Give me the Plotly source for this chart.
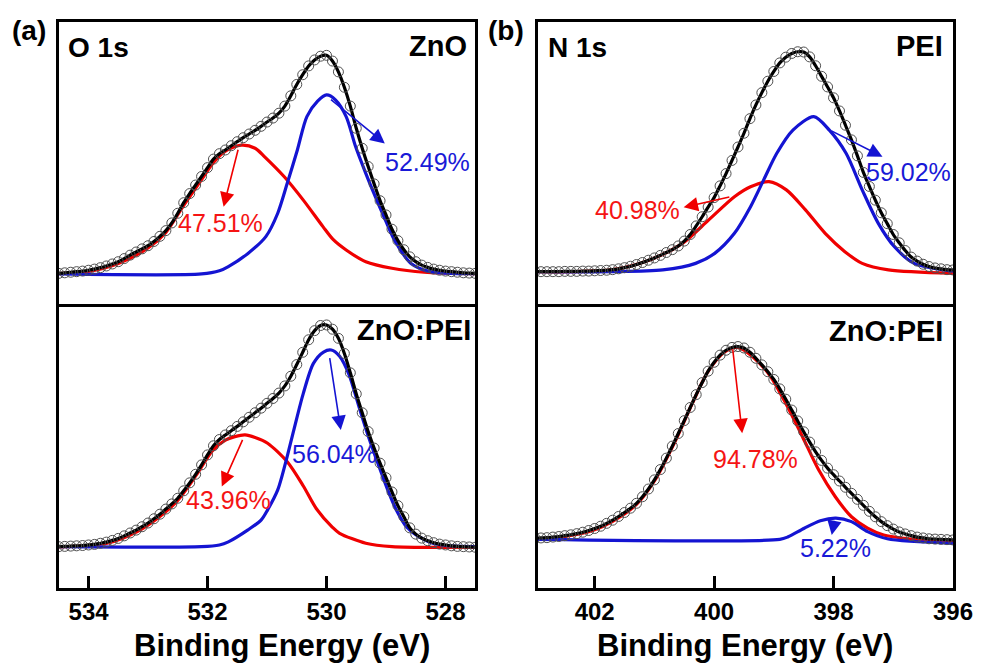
import plotly.graph_objects as go

# ---------------- data ----------------
STEP = 0.1
O1S_START = 534.5
N1S_START = 403.0

# O 1s, ZnO : measured intensity (also the envelope fit), 534.5 -> 527.5 eV
o1s_zno_data = [
    11.1, 11.3, 11.5, 11.7, 11.9, 12.2, 12.6, 13.1, 13.7, 14.4,
    15.2, 16.3, 17.5, 18.6, 19.7, 20.8, 22.3, 24.1, 26.1, 28.8,
    32.2, 35.9, 39.1, 42.1, 45.1, 48.2, 51.2, 53.1, 54.4, 55.9,
    57.3, 58.7, 60.0, 61.3, 62.7, 64.2, 65.6, 67.3, 69.8, 73.4,
    77.4, 80.8, 83.9, 86.0, 87.3, 87.6, 85.6, 81.8, 76.4, 69.8,
    62.0, 55.0, 48.6, 42.5, 36.6, 31.6, 26.6, 22.6, 19.4, 16.9,
    15.2, 14.0, 13.2, 12.6, 12.2, 11.9, 11.7, 11.5, 11.3, 11.2,
    11.1]
o1s_zno_red_e = [534.5, 534.0, 533.5, 533.0, 532.7, 532.4, 532.1, 531.9, 531.7, 531.43,
                 531.2, 531.04, 530.71, 530.39, 530.06, 529.89, 529.67, 529.34, 528.9, 528.36, 527.5]
o1s_zno_red_v = [11.0, 11.8, 14.6, 20.0, 25.5, 35.0, 44.0, 50.0, 54.0, 56.1,
                 55.0, 52.0, 45.0, 36.8, 27.5, 23.0, 19.3, 15.2, 12.9, 11.5, 11.0]
o1s_zno_blue_e = [534.5, 532.1, 531.8, 531.65, 531.32, 531.02, 530.82, 530.66, 530.49, 530.33,
                  530.15, 530.0, 529.85, 529.67, 529.51, 529.34, 529.18, 529.01, 528.85, 528.58,
                  528.25, 527.5]
o1s_zno_blue_v = [10.9, 10.9, 12.0, 13.5, 18.1, 24.0, 32.2, 42.7, 54.4, 66.1,
                  71.5, 73.7, 72.0, 66.1, 55.5, 46.2, 38.0, 29.8, 22.5, 14.6,
                  11.7, 11.0]

# O 1s, ZnO:PEI
o1s_zp_data = [
    15.2, 15.3, 15.4, 15.5, 15.6, 15.8, 16.0, 16.4, 16.8, 17.4,
    18.1, 19.0, 20.0, 21.0, 22.2, 23.5, 25.0, 26.6, 28.4, 30.2,
    32.2, 34.8, 37.6, 40.6, 43.9, 47.4, 50.6, 52.8, 54.4, 55.9,
    57.4, 59.0, 60.6, 62.2, 63.8, 65.5, 67.2, 69.1, 71.6, 75.0,
    79.1, 83.4, 87.8, 91.0, 92.8, 93.0, 91.5, 88.3, 83.0, 76.2,
    68.8, 62.2, 55.6, 49.8, 44.5, 39.4, 34.4, 29.6, 25.7, 21.8,
    19.6, 18.2, 17.3, 16.6, 16.1, 15.8, 15.5, 15.3, 15.2, 15.1,
    15.0]
o1s_zp_red_e = [534.5, 533.67, 533.18, 532.85, 532.52, 532.19, 531.92, 531.7, 531.54, 531.37,
                531.2, 530.99, 530.66, 530.39, 530.17, 529.9, 529.78, 529.34, 528.9, 527.5]
o1s_zp_red_v = [15.1, 16.5, 20.5, 25.0, 31.0, 40.3, 48.8, 52.6, 53.8, 54.4,
                53.5, 51.5, 45.0, 36.5, 28.5, 22.0, 19.9, 16.4, 15.2, 15.0]
o1s_zp_blue_e = [534.5, 532.1, 531.8, 531.65, 531.32, 531.1, 530.99, 530.82, 530.69, 530.55,
                 530.39, 530.22, 530.05, 529.92, 529.78, 529.62, 529.45, 529.29, 529.12, 528.96,
                 528.82, 528.65, 528.47, 528.2, 528.0, 527.5]
o1s_zp_blue_v = [15.2, 15.2, 15.8, 16.9, 21.1, 24.5, 28.1, 35.1, 44.5, 56.1,
                 69.0, 79.5, 83.5, 84.2, 82.0, 75.5, 64.0, 53.5, 43.5, 34.5,
                 27.8, 22.0, 19.0, 16.3, 15.6, 15.2]

# N 1s, PEI : 403.0 -> 396.0 eV
n1s_pei_data = [
    12.0, 12.0, 12.0, 12.0, 12.0, 12.1, 12.1, 12.1, 12.2, 12.2,
    12.3, 12.4, 12.5, 12.7, 13.0, 13.4, 13.9, 14.5, 15.2, 16.0,
    16.8, 17.7, 18.7, 19.7, 21.0, 22.7, 25.0, 28.0, 31.2, 34.6,
    37.9, 42.0, 46.3, 50.9, 55.6, 60.4, 65.5, 70.3, 74.6, 78.6,
    82.0, 85.0, 87.0, 88.3, 88.9, 88.8, 87.1, 84.0, 80.3, 76.6,
    72.8, 68.2, 63.2, 58.1, 52.5, 46.7, 41.8, 37.0, 32.6, 28.8,
    25.0, 22.1, 19.4, 17.1, 15.7, 14.6, 13.8, 13.3, 13.0, 12.7,
    12.6]
n1s_pei_red_e = [403.0, 401.73, 401.08, 400.53, 400.09, 399.66, 399.39, 399.08, 398.79, 398.47,
                 398.14, 397.81, 397.52, 397.08, 396.0]
n1s_pei_red_v = [12.0, 12.6, 16.1, 21.9, 30.1, 38.2, 41.7, 43.5, 40.6, 33.6,
                 25.4, 19.0, 14.9, 12.6, 11.4]
n1s_pei_blue_e = [403.0, 401.73, 400.86, 400.31, 399.99, 399.66, 399.39, 399.17, 398.95, 398.68,
                  398.33, 398.07, 397.79, 397.52, 397.25, 396.98, 396.65, 396.0]
n1s_pei_blue_v = [12.0, 12.0, 12.6, 14.9, 18.4, 25.4, 34.7, 44.1, 53.4, 61.5,
                  66.2, 61.5, 53.4, 40.6, 28.9, 20.7, 14.9, 12.2]

# N 1s, ZnO:PEI
n1s_zp_data = [
    18.8, 18.9, 19.0, 19.2, 19.4, 19.7, 20.0, 20.4, 20.9, 21.5,
    22.2, 23.0, 24.0, 25.1, 26.4, 27.8, 29.3, 31.0, 33.3, 36.0,
    39.2, 42.8, 46.8, 51.0, 55.4, 59.9, 64.5, 69.0, 73.2, 77.2,
    80.3, 82.8, 84.5, 85.5, 85.8, 85.3, 83.8, 81.7, 79.4, 77.0,
    74.3, 71.0, 67.4, 63.6, 59.8, 56.0, 52.4, 49.0, 46.0, 43.3,
    41.0, 38.8, 36.6, 34.5, 32.4, 30.3, 28.2, 26.3, 24.6, 23.2,
    22.0, 21.0, 20.3, 19.7, 19.2, 18.9, 18.6, 18.5, 18.4, 18.3,
    18.2]
n1s_zp_red_e = [403.0, 402.5, 402.0, 401.7, 401.3, 401.0, 400.65, 400.37, 400.1, 399.83,
                399.61, 399.34, 399.06, 398.79, 398.52, 398.25, 397.97, 397.7, 397.43, 397.16,
                396.83, 396.0]
n1s_zp_red_v = [18.4, 19.4, 21.8, 24.7, 30.6, 38.8, 52.8, 65.7, 77.1, 83.8,
                85.5, 82.0, 75.5, 65.5, 54.3, 42.7, 33.3, 26.3, 22.3, 19.9,
                18.8, 17.6]
n1s_zp_blue_e = [403.0, 398.9, 398.76, 398.49, 398.22, 397.96, 397.7, 397.43, 397.1, 396.0]
n1s_zp_blue_v = [18.4, 18.4, 19.3, 22.3, 24.9, 25.8, 24.6, 21.1, 18.6, 17.0]

# tick labels
o1s_ticks = [534, 532, 530, 528]
n1s_ticks = [402, 400, 398, 396]

# percentage labels: (text, x, y, arrow tail x, tail y, head x, head y)
o1s_zno_pct = [("47.51%", 531.78, 28.8, 531.48, 55.0, 531.73, 34.5, "red"),
               ("52.49%", 528.30, 50.2, 529.95, 72.5, 529.02, 56.7, "blue")]
o1s_zp_pct = [("43.96%", 531.64, 31.6, 531.40, 53.2, 531.76, 36.3, "red"),
              ("56.04%", 529.86, 47.7, 529.95, 81.9, 529.76, 56.1, "blue")]
n1s_pei_pct = [("40.98%", 401.28, 33.6, 399.72, 38.2, 400.51, 34.5, "red"),
               ("59.02%", 396.75, 46.9, 398.06, 61.5, 397.18, 52.2, "blue")]
n1s_zp_pct = [("94.78%", 399.30, 46.5, 399.69, 85.2, 399.53, 55.5, "red"),
              ("5.22%", 397.96, 15.4, 397.98, 25.4, 398.03, 19.9, "blue")]

# ---------------- styling ----------------
FONT = "Liberation Sans, Arial, sans-serif"
RED = "rgb(240,0,0)"
BLUE = "rgb(20,20,210)"
TXT_RED = "rgb(245,20,20)"
TXT_BLUE = "rgb(25,25,215)"
LW = 3.2


def grid(start, n):
    return [round(start - STEP * i, 2) for i in range(n)]


fig = go.Figure()

panels = [
    ("x", "y", O1S_START, o1s_zno_data, o1s_zno_red_e, o1s_zno_red_v, o1s_zno_blue_e, o1s_zno_blue_v, o1s_zno_pct),
    ("x2", "y2", O1S_START, o1s_zp_data, o1s_zp_red_e, o1s_zp_red_v, o1s_zp_blue_e, o1s_zp_blue_v, o1s_zp_pct),
    ("x3", "y3", N1S_START, n1s_pei_data, n1s_pei_red_e, n1s_pei_red_v, n1s_pei_blue_e, n1s_pei_blue_v, n1s_pei_pct),
    ("x4", "y4", N1S_START, n1s_zp_data, n1s_zp_red_e, n1s_zp_red_v, n1s_zp_blue_e, n1s_zp_blue_v, n1s_zp_pct),
]

annotations = []
for xa, ya, start, data, re_, rv, be, bv, pct in panels:
    e = grid(start, len(data))
    fig.add_trace(go.Scatter(x=re_, y=rv, mode="lines", xaxis=xa, yaxis=ya,
                             line=dict(color=RED, width=LW, shape="spline", smoothing=0.8),
                             showlegend=False, hoverinfo="skip"))
    fig.add_trace(go.Scatter(x=be, y=bv, mode="lines", xaxis=xa, yaxis=ya,
                             line=dict(color=BLUE, width=LW, shape="spline", smoothing=0.8),
                             showlegend=False, hoverinfo="skip"))
    fig.add_trace(go.Scatter(x=e, y=data, mode="lines", xaxis=xa, yaxis=ya,
                             line=dict(color="black", width=LW, shape="spline", smoothing=0.8),
                             showlegend=False, hoverinfo="skip"))
    fig.add_trace(go.Scatter(x=e, y=data, mode="markers", xaxis=xa, yaxis=ya,
                             marker=dict(symbol="circle-open", size=10, color="rgb(80,80,80)",
                                         line=dict(width=1, color="rgb(80,80,80)")),
                             showlegend=False, hoverinfo="skip"))
    for (txt, tx, ty, ax_, ay_, hx, hy, col) in pct:
        c = RED if col == "red" else BLUE
        tc = TXT_RED if col == "red" else TXT_BLUE
        annotations.append(dict(x=hx, y=hy, ax=ax_, ay=ay_, xref=xa, yref=ya,
                                axref=xa, ayref=ya, text="", showarrow=True,
                                arrowhead=2, arrowsize=1.8, arrowwidth=1.6,
                                arrowcolor=c, standoff=0, startstandoff=0))
        annotations.append(dict(x=tx, y=ty, xref=xa, yref=ya, text=txt, showarrow=False,
                                font=dict(family=FONT, size=25, color=tc),
                                xanchor="center", yanchor="middle"))

# paper-positioned labels
W, H = 995, 665


def px(x):
    return x / W


def py(y):
    return 1 - y / H


labels = [
    ("(a)", 30, 31, "center", 28),
    ("(b)", 516, 30, "center", 28),
    ("O 1s", 67, 47, "left", 28),
    ("ZnO", 479, 46, "right", 29),
    ("N 1s", 557, 47, "left", 28),
    ("PEI", 964, 46, "right", 29),
    ("ZnO:PEI", 483, 330, "right", 29),
    ("ZnO:PEI", 964, 331, "right", 29),
    ("Binding Energy (eV)", 288, 645, "center", 31),
    ("Binding Energy (eV)", 760, 645, "center", 31),
]
for t, x, y, anc, sz in labels:
    annotations.append(dict(x=px(x), y=py(y), xref="paper", yref="paper", text=t,
                            showarrow=False, xanchor=anc, yanchor="middle",
                            font=dict(family=FONT, size=sz, color="black", weight="bold")))

# plot-area domains (inner edges of the 3 px frame)
XL = [px(60), px(485)]
XR = [px(549), px(972.5)]
YT = [py(303.5), py(22)]
YB = [py(588), py(306.5)]

frame = dict(showline=True, linecolor="black", linewidth=3, mirror=True,
             showgrid=False, zeroline=False)


def xaxis(domain, rng, ticks, anchor, show):
    d = dict(domain=domain, range=rng, anchor=anchor, **frame)
    if show:
        d.update(tickmode="array", tickvals=ticks, ticktext=[str(t) for t in ticks],
                 ticks="inside", ticklen=12, tickwidth=3, tickcolor="black",
                 showticklabels=True,
                 tickfont=dict(family=FONT, size=24, color="black", weight="bold"))
    else:
        d.update(ticks="", showticklabels=False)
    return d


def yaxis(domain, anchor, rng):
    return dict(domain=domain, range=rng, anchor=anchor, ticks="",
                showticklabels=False, **frame)


fig.update_layout(
    autosize=True,
    margin=dict(l=0, r=0, t=0, b=0),
    paper_bgcolor="white", plot_bgcolor="white",
    xaxis=xaxis(XL, [534.5, 527.5], o1s_ticks, "y", False),
    yaxis=yaxis(YT, "x", [0.53, 99.3]),
    xaxis2=xaxis(XL, [534.5, 527.5], o1s_ticks, "y2", True),
    yaxis2=yaxis(YB, "x2", [0.7, 99.47]),
    xaxis3=xaxis(XR, [402.95, 396.0], n1s_ticks, "y3", False),
    yaxis3=yaxis(YT, "x3", [0.87, 99.3]),
    xaxis4=xaxis(XR, [402.95, 396.0], n1s_ticks, "y4", True),
    yaxis4=yaxis(YB, "x4", [1.4, 99.8]),
    annotations=annotations,
)

post = (
    "document.documentElement.style.height='100%';"
    "document.documentElement.style.overflow='hidden';"
    "document.body.style.height='100%';"
    "document.body.style.margin='0';"
    "document.body.style.overflow='hidden';"
    "var gd=document.getElementById('{plot_id}');"
    "gd.style.width='100vw';gd.style.height='100vh';"
    "Plotly.Plots.resize(gd);"
)
fig.write_html("out.html", config={"displayModeBar": False, "responsive": True},
               default_width="100%", default_height="100%", post_script=post)
